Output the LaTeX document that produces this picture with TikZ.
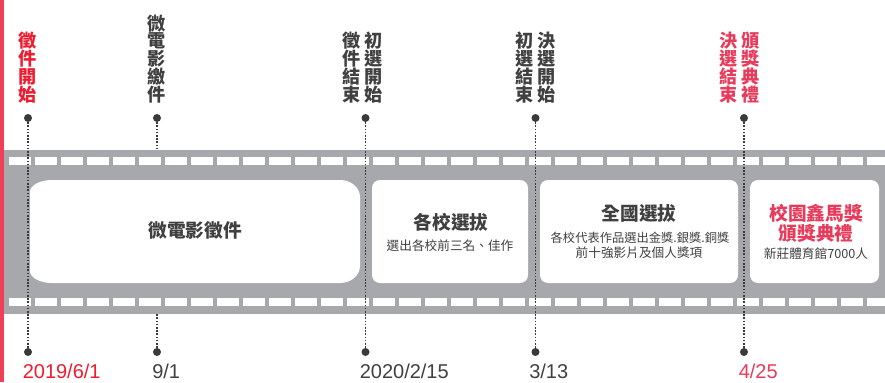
\documentclass[tikz,border=0pt]{standalone}
\usepackage{fontspec}
\setmainfont{Liberation Sans}
\newfontfamily\cjk{Noto Sans CJK TC}
\definecolor{barred}{HTML}{EE4059}
\definecolor{brightred}{HTML}{EE1C2E}
\definecolor{pinkred}{HTML}{E83A5A}
\definecolor{textgray}{HTML}{404040}
\definecolor{dotgray}{HTML}{3A3A3A}
\definecolor{filmgray}{HTML}{A7A8AB}

\begin{document}
\begin{tikzpicture}[x=0.75pt, y=-0.75pt,
		dot/.style={circle, fill=dotgray, inner sep=0pt, minimum size=6pt},
		link/.style={dotgray, line width=0.8pt, dash pattern=on 1.1pt off 1.3pt},
		frame/.style={fill=white, rounded corners=6pt, minimum height=77.25pt, inner sep=0pt},
		vlabel/.style={font=\cjk\bfseries\fontsize{13.6}{13.3}\selectfont, text=textgray, align=center, inner sep=0pt, anchor=south},
		date/.style={font=\fontsize{15}{15}\selectfont, text=textgray, inner sep=0pt, anchor=base west},
		title/.style={font=\cjk\bfseries\fontsize{14}{16}\selectfont, text=textgray, inner sep=0pt},
		note/.style={font=\cjk\fontsize{9.5}{12}\selectfont, text=textgray, inner sep=0pt}]
			%%%%% START %%%%%
			
			\useasboundingbox (0, 0) rectangle (885, 382);
			\fill[barred] (0, 0) rectangle (4, 382);
			
			% 9/1 lies behind the strip
			\node[dot] (t2) at (157, 118) {};
			\node[dot] (b2) at (157, 352) {};
			\draw[link] (t2) -- (b2);
			
			% film strip
			\fill[filmgray] (4, 150) rectangle (885, 314);
			\foreach \k in {0,...,33} {
				\fill[white] ({9+26*\k}, 157) rectangle ++(21.5, 8);
				\fill[white] ({9+26*\k}, 298) rectangle ++(21.5, 8);
			}
			
			\foreach \n/\x in {1/28, 3/365.5, 4/535.5, 5/744} {
				\node[dot] (t\n) at (\x, 118) {};
				\node[dot] (b\n) at (\x, 352) {};
				\draw[link] (t\n) -- (b\n);
			}
			
			% frames
			\fill[white] (52, 180) -- (340, 180) arc[start angle=-90, end angle=0, x radius=20, y radius=17]
				-- (360, 266) arc[start angle=0, end angle=90, x radius=20, y radius=17]
				-- (52, 283) arc[start angle=90, end angle=180, x radius=22, y radius=12]
				-- (30, 192) arc[start angle=180, end angle=270, x radius=22, y radius=12] -- cycle;
			\node[frame, minimum width=117pt] (school) at (450, 231.5) {};
			\node[frame, minimum width=148.5pt] (nation) at (639, 231.5) {};
			\node[frame, minimum width=96.75pt] (award) at (814.5, 231.5) {};
			
			\node[title] (collect) at (195, 230) {微電影徵件};
			\node[title] (schooltitle) at (451, 222) {各校選拔};
			\node[note] (schoolnote) at (450, 246) {選出各校前三名、佳作};
			\node[title] (nationtitle) at (639, 213) {全國選拔};
			\node[note, font=\cjk\fontsize{9.2}{12}\selectfont] (nationnote) at (640, 238) {各校代表作品選出金獎.銀獎.銅獎};
			\node[note] (nationmore) at (639, 253) {前十強影片及個人獎項};
			\node[title, text=pinkred] (awardtitle) at (816, 213) {校園鑫馬獎};
			\node[title, text=pinkred] (awardsub) at (816, 233) {頒獎典禮};
			\node[note] (awardnote) at (816, 254) {新莊體育館7000人};
			
			% labels above
			\node[vlabel, text=brightred] (l1) at (28, 103) {徵\\件\\開\\始};
			\node[vlabel] (l2) at (157, 103) {微\\電\\影\\繳\\件};
			\node[vlabel] (l3a) at (351.5, 103) {徵\\件\\結\\束};
			\node[vlabel] (l3b) at (373.5, 103) {初\\選\\開\\始};
			\node[vlabel] (l4a) at (525, 103) {初\\選\\結\\束};
			\node[vlabel] (l4b) at (546.5, 103) {決\\選\\開\\始};
			\node[vlabel, text=pinkred] (l5a) at (728.5, 103) {決\\選\\結\\束};
			\node[vlabel, text=pinkred] (l5b) at (751, 103) {頒\\獎\\典\\禮};
			
			% dates below
			\node[date, text=brightred] (d1) at (22.5, 378) {2019/6/1};
			\node[date] (d2) at (152, 378) {9/1};
			\node[date] (d3) at (359.5, 378) {2020/2/15};
			\node[date] (d4) at (529, 378) {3/13};
			\node[date, text=pinkred] (d5) at (738.5, 378) {4/25};
			
			%%%%% END %%%%%
\end{tikzpicture}
\end{document}
